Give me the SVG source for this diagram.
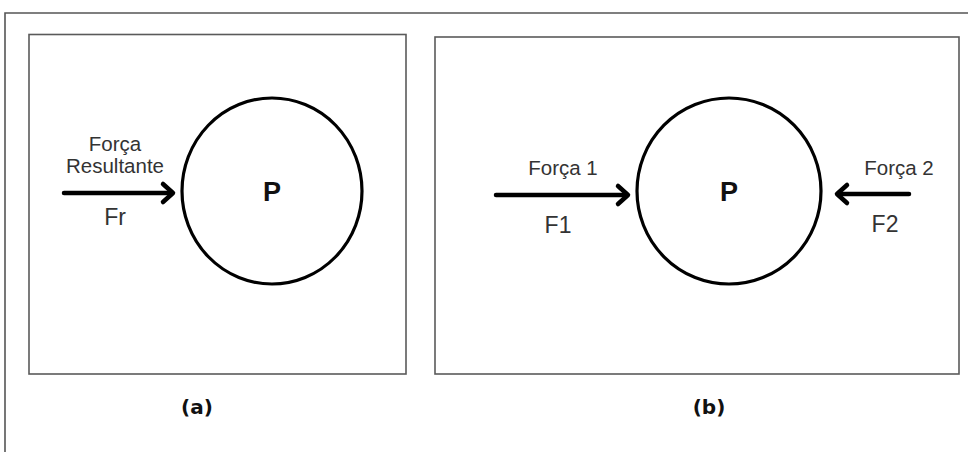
<svg xmlns="http://www.w3.org/2000/svg" width="968" height="452" viewBox="0 0 968 452">
<defs>
<style>
.frame{fill:none;stroke:#555;stroke-width:1.6}
.box{fill:#fff;stroke:#5a5a5a;stroke-width:1.6}
.ball{fill:#fff;stroke:#000;stroke-width:3.2}
.shaft{stroke:#000;stroke-width:4.5;fill:none;stroke-linecap:round}
.head{stroke:#000;stroke-width:4.5;fill:none;stroke-linecap:round;stroke-linejoin:round}
.lbl{font-family:"Liberation Sans",Arial,sans-serif;font-size:20.5px;fill:#333;text-anchor:middle}
.sym{font-family:"Liberation Sans",Arial,sans-serif;font-size:23px;fill:#333;text-anchor:middle}
.p{font-family:"Liberation Sans",Arial,sans-serif;font-size:27px;font-weight:bold;fill:#111;text-anchor:middle}
.cap{font-family:"DejaVu Sans","Liberation Sans",sans-serif;font-size:20px;font-weight:bold;fill:#111;text-anchor:middle}
</style>
</defs>
<rect width="968" height="452" fill="#fff"/>
<polyline class="frame" points="5,452 5,13 968,13"/>
<g id="panel-a">
<rect class="box" x="29" y="34.5" width="377" height="339.5"/>
<ellipse class="ball" cx="272" cy="191" rx="90" ry="93"/>
<text class="p" x="272" y="201">P</text>
<text class="lbl" x="115" y="151">Força</text>
<text class="lbl" x="115" y="173">Resultante</text>
<text class="sym" x="115" y="225">Fr</text>
<text class="cap" x="197" y="414">(a)</text>
</g>
<g id="panel-b">
<rect class="box" x="435" y="37" width="524" height="337"/>
<ellipse class="ball" cx="729" cy="191" rx="92" ry="93"/>
<text class="p" x="729" y="201">P</text>
<text class="lbl" x="563" y="175">Força 1</text>
<text class="sym" x="558" y="233">F1</text>
<text class="lbl" x="899" y="175">Força 2</text>
<text class="sym" x="885" y="232">F2</text>
<text class="cap" x="709" y="414">(b)</text>
</g>
<g id="connectors">
<line class="shaft" x1="64" y1="193" x2="172" y2="193"/>
<polyline class="head" points="163,184 173,193 163,202"/>
<line class="shaft" x1="496" y1="195" x2="627" y2="195"/>
<polyline class="head" points="618,186 628,195 618,204"/>
<line class="shaft" x1="909" y1="194" x2="838" y2="194"/>
<polyline class="head" points="847,185 837,194 847,203"/>
</g>
</svg>
